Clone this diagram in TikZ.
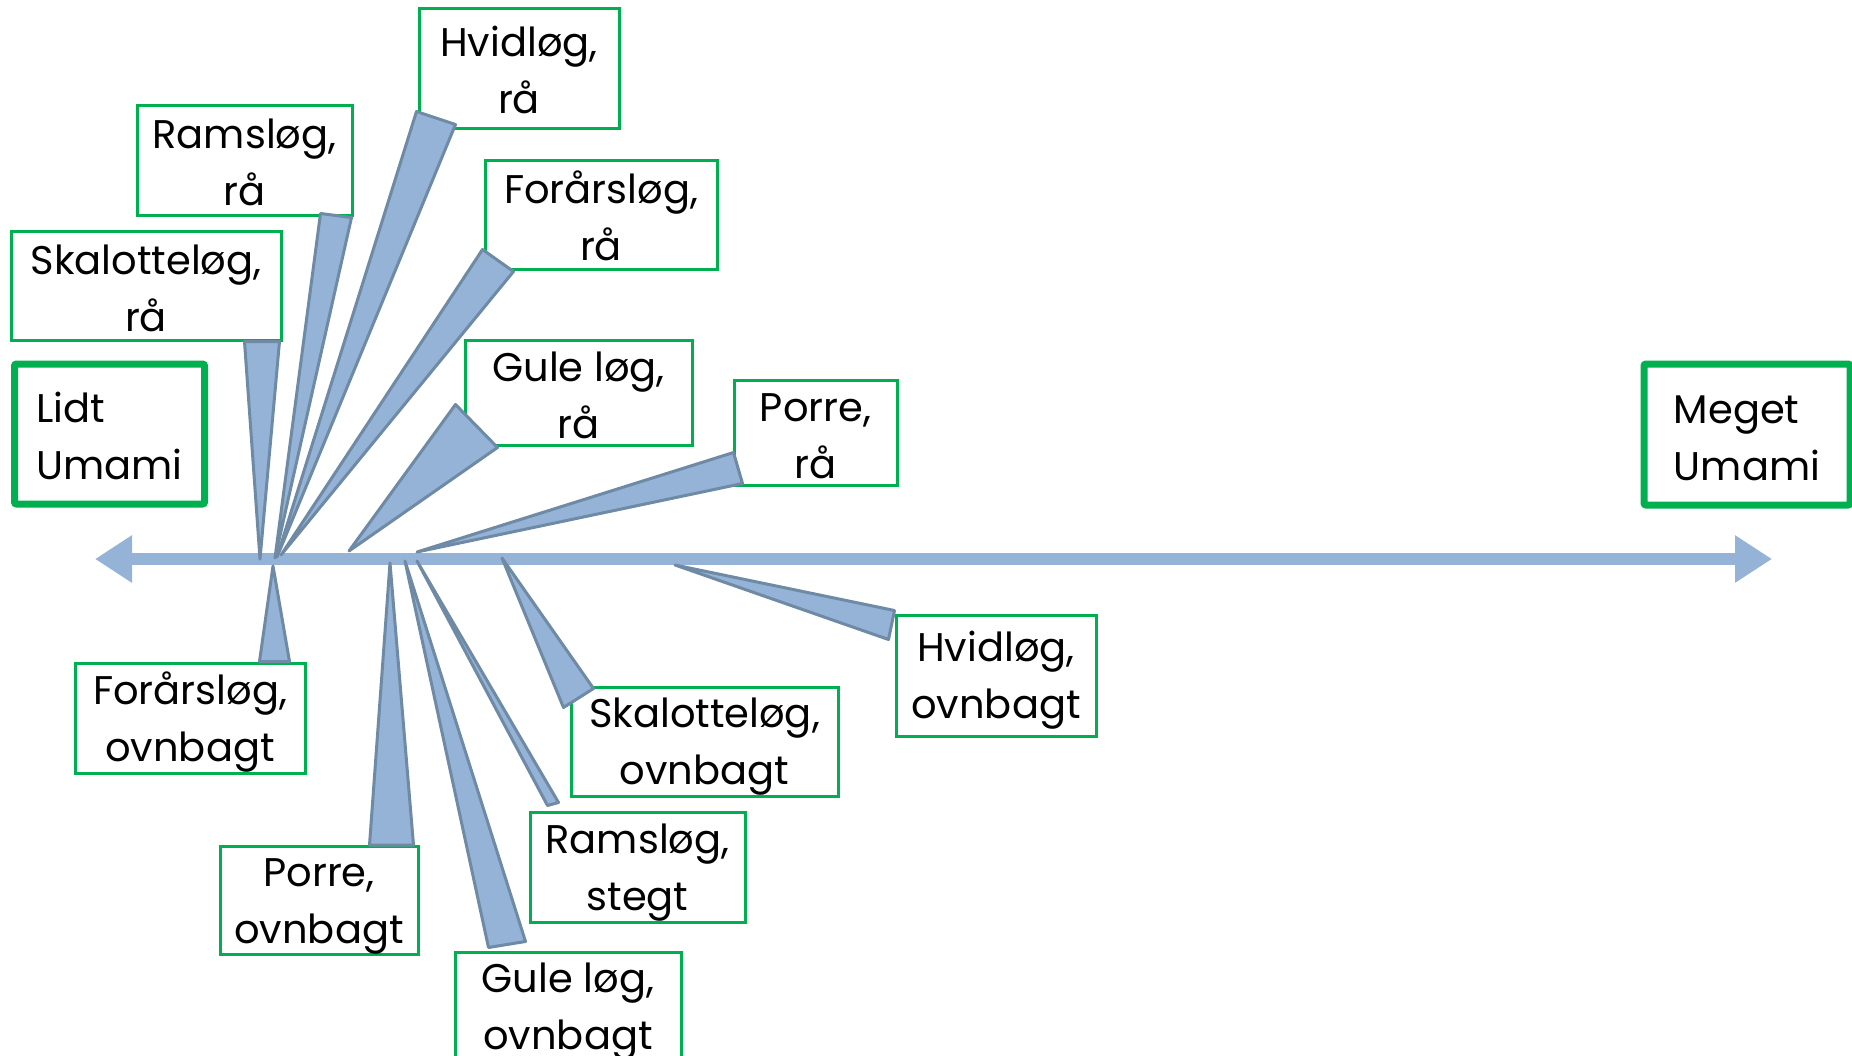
\documentclass[tikz,border=0pt]{standalone}
\usepackage{fontspec}
\setmainfont{Poppins}
\usepackage{xcolor}
\usetikzlibrary{arrows.meta,calc}
\definecolor{Axis}{HTML}{95B3D7}
\definecolor{AxisEdge}{HTML}{6E8AA5}
\definecolor{Frame}{HTML}{00B050}
% line strut: 20pt above, 3pt below the baseline
\newcommand{\ls}{\rule[-3pt]{0pt}{23pt}}

\begin{document}
\begin{tikzpicture}[x=0.5pt,y=-0.5pt,
  tag/.style={draw=Frame,line width=1.5pt,fill=white,inner sep=0pt,
    align=center,font=\fontsize{20}{28.5}\selectfont},
  endtag/.style={tag,line width=3.5pt,rounded corners=1pt,align=left},
  wedge/.style={fill=Axis,draw=AxisEdge,line width=1.5pt,line join=round}]
  \clip (0,0) rectangle (1852,1055);

  % the two ends of the scale
  \node[endtag,minimum width=94.5pt,minimum height=70pt,text width=73pt,inner xsep=11pt]
    (lidt) at (109.5,434) {\ls Lidt\\\ls Umami};
  \node[endtag,minimum width=103pt,minimum height=70.5pt]
    (meget) at (1747,434.5) {\ls Meget\\\ls Umami};

  % onion labels, corners given as x1/y1/x2/y2
  \foreach \n/\xa/\ya/\xb/\yb/\ta/\tb in {
    hvidRaa/419/8/619/128/{Hvidløg,}/rå,
    ramsRaa/137/105/352/215/{Ramsløg,}/rå,
    skalRaa/11/231/281/340/{Skalotteløg,}/rå,
    foraarRaa/485/160/717/269/{Forårsløg,}/rå,
    guleRaa/465/340/692/445/{Gule løg,}/rå,
    porreRaa/734/380/897/485/{Porre,}/rå,
    foraarOvn/75/663/305/773/{Forårsløg,}/ovnbagt,
    porreOvn/220/847/418/954/{Porre,}/ovnbagt,
    guleOvn/455/952/681/1061/{Gule løg,}/ovnbagt,
    ramsStegt/530/812/745/922/{Ramsløg,}/stegt,
    skalOvn/571/687/838/796/{Skalotteløg,}/ovnbagt,
    hvidOvn/896/615/1096/736/{Hvidløg,}/ovnbagt}
  {
    \node[tag,minimum width=(\xb-\xa)*0.5pt,minimum height=(\yb-\ya)*0.5pt]
      (\n) at ({(\xa+\xb)/2},{(\ya+\yb)/2}) {\ls\ta\\\ls\tb};
  }

  % umami axis
  \coordinate (lo) at (95,559);
  \coordinate (hi) at (1772,559);
  \draw[Axis,line width=6.3pt,
    {Triangle[length=18.5pt,width=22.5pt]}-{Triangle[length=18.5pt,width=22.5pt]}]
    (lo) -- (hi);

  % wedges from the axis to each label
  \foreach \n/\c/\ax/\ay/\pa/\qa/\pb/\qb in {
    skalRaa/south east/260/559/-38/0/-3/0,
    ramsRaa/south east/275/558/-33/-3/-2/1,
    hvidRaa/south west/277/557/-1/-18/38/-5,
    foraarRaa/south west/281/555/-1/-21/30/1,
    guleRaa/south west/349/551/-8/-42/34/1,
    porreRaa/south west/417/552/1/-34/10/-3,
    foraarOvn/north east/273/566/-47/0/-17/0,
    porreOvn/north east/390/563/-50/0/-6/0,
    guleOvn/north west/405/561/35/-3/72/-9,
    ramsStegt/north west/417/561/19/-5/30/-8,
    skalOvn/north west/502/558/-6/22/24/3,
    hvidOvn/north west/675/565/0/-3/-6/26}
  {
    \filldraw[wedge] (\ax,\ay) -- ($(\n.\c)+(\pa,\qa)$)
      -- ($(\n.\c)+(\pb,\qb)$) -- cycle;
  }
\end{tikzpicture}
\end{document}
